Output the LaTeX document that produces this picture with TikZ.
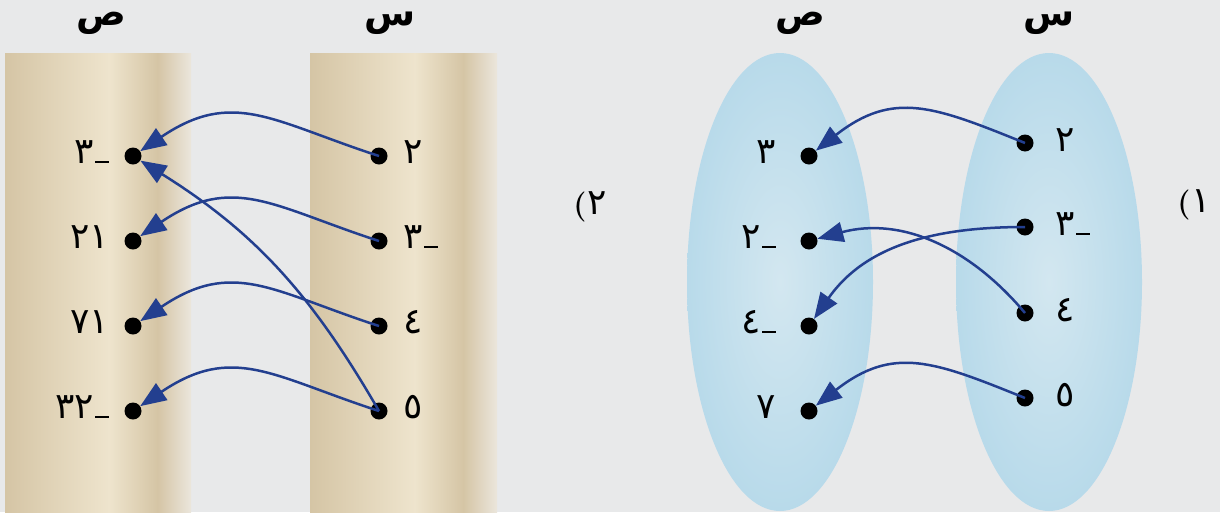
\documentclass[tikz,border=0pt]{standalone}
\usepackage{fontspec}
\newfontfamily\arabicfont[Script=Arabic]{DejaVu Sans}
\usetikzlibrary{arrows.meta}
\definecolor{bggray}{HTML}{E8E9EA}
\definecolor{tanD}{HTML}{D5C5A5}
\definecolor{tanL}{HTML}{EEE4CD}
\definecolor{tanE}{HTML}{EBE6DC}
\definecolor{setblue}{HTML}{B8DAEA}
\definecolor{setcore}{HTML}{D3E7F0}
\definecolor{arrowblue}{HTML}{233F8F}
\pgfdeclarehorizontalshading{strip}{100bp}{color(0bp)=(tanD); color(25bp)=(tanD); color(53bp)=(tanL); color(66bp)=(tanD); color(75bp)=(tanE); color(100bp)=(tanE)}
\newcommand{\mns}{\kern1pt\rule{14pt}{2pt}}
\newcommand{\opn}{{\rmfamily\bfseries\fontsize{30}{30}\selectfont(}\kern1pt}

\begin{document}
\begin{tikzpicture}[x=1pt,y=1pt,
    dot/.style={circle,fill=black,inner sep=0pt,minimum size=17pt},
    num/.style={inner sep=0pt,font=\arabicfont\fontsize{36}{36}\selectfont},
    head/.style={inner sep=0pt,font=\arabicfont\bfseries\fontsize{37}{37}\selectfont},
    mapto/.style={arrowblue,line width=2.5pt,-{Triangle[length=26pt,width=20pt]}}]
  \fill[bggray] (0,0) rectangle (1220,-512);
  \useasboundingbox (0,0) rectangle (1220,-512);
  % set strips and ovals
  \shade[shading=strip] (5,-53) rectangle (191,-512);
  \shade[shading=strip] (310,-53) rectangle (497,-512);
  \shade[inner color=setcore,outer color=setblue] (780,-282) ellipse (93 and 229);
  \shade[inner color=setcore,outer color=setblue] (1049,-282) ellipse (93 and 229);
  % headings
  \node[head,anchor=base] (lhy) at (101,-25) {ص};
  \node[head,anchor=base] (lhx) at (390,-25) {س};
  \node[head,anchor=base] (rhy) at (800,-25) {ص};
  \node[head,anchor=base] (rhx) at (1049,-25) {س};
  \node[num,anchor=base] (ltag) at (590,-214) {\opn٢};
  \node[num,anchor=base] (rtag) at (1194,-212) {\opn١};
  % panel 2 (left)
  \foreach \i/\y/\t in {1/156/{٣\mns},2/241/{٢١},3/326/{٧١},4/411/{٣٢\mns}} {
    \node[dot] (ly\i) at (133,-\y) {};
    \node[num,anchor=base east] (lyt\i) at ([xshift=-15pt,yshift=-7pt]ly\i.west) {\t};
  }
  \foreach \i/\y/\t in {1/156/{٢},2/241/{٣\mns},3/326/{٤},4/411/{٥}} {
    \node[dot] (lx\i) at (379,-\y) {};
    \node[num,anchor=base west] (lxt\i) at ([xshift=16pt,yshift=-7pt]lx\i.east) {\t};
  }
  % panel 1 (right)
  \foreach \i/\y/\t in {1/156/{٣},2/241/{٢\mns},3/326/{٤\mns},4/411/{٧}} {
    \node[dot] (ry\i) at (809,-\y) {};
    \node[num,anchor=base east] (ryt\i) at ([xshift=-24pt,yshift=-7pt]ry\i.west) {\t};
  }
  \foreach \i/\y/\t in {1/143/{٢},2/227/{٣\mns},3/313/{٤},4/398/{٥}} {
    \node[dot] (rx\i) at (1025,-\y) {};
    \node[num,anchor=base west] (rxt\i) at ([xshift=22pt,yshift=-8pt]rx\i.east) {\t};
  }
  % mappings
  \draw[mapto] (lx1.center) to[out=162,in=34,looseness=1.2] (ly1);
  \draw[mapto] (lx2.center) to[out=162,in=34,looseness=1.2] (ly2);
  \draw[mapto] (lx3.center) to[out=162,in=34,looseness=1.2] (ly3);
  \draw[mapto] (lx4.center) to[out=162,in=34,looseness=1.2] (ly4);
  \draw[mapto] (lx4.center) to[out=120,in=-32] (ly1);
  \draw[mapto] (rx1.center) to[out=158,in=38,looseness=1.2] (ry1);
  \draw[mapto] (rx2.center) to[out=180,in=55] (ry3);
  \draw[mapto] (rx3.center) to[out=130,in=15] (ry2);
  \draw[mapto] (rx4.center) to[out=158,in=38,looseness=1.2] (ry4);
\end{tikzpicture}
\end{document}
